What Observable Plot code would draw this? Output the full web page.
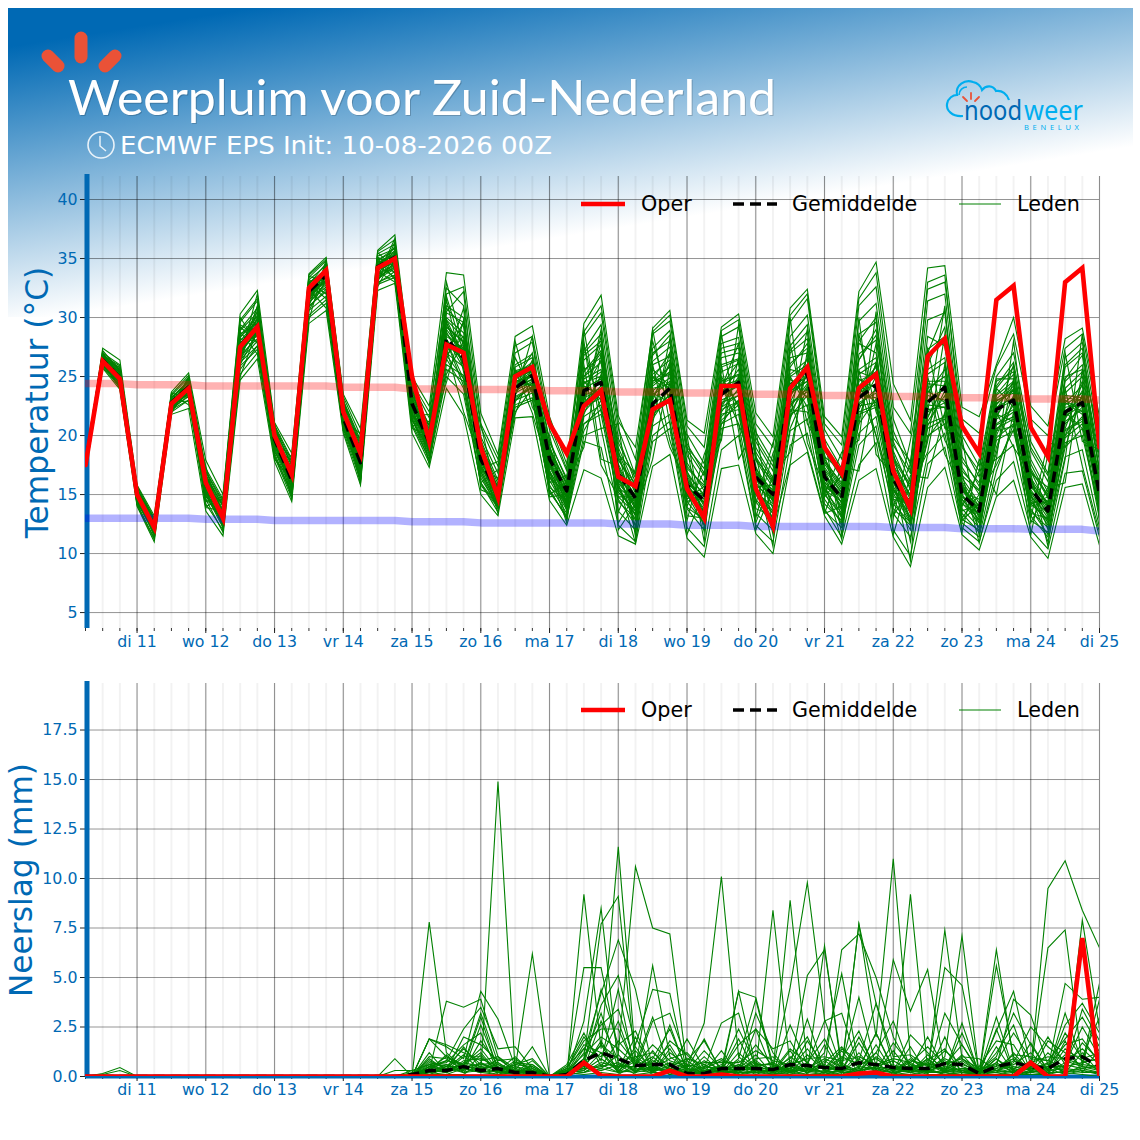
<!DOCTYPE html>
<html><head><meta charset="utf-8">
<script src="https://cdn.jsdelivr.net/npm/d3@7"></script>
<script src="https://cdn.jsdelivr.net/npm/@observablehq/plot@0.6"></script>
<style>
html,body{margin:0;padding:0;background:#fff}
#page{position:relative;width:1140px;height:1140px;overflow:hidden}
#band{position:absolute;left:8px;top:8px;width:1125px;height:309px;background:linear-gradient(171deg,#0069b4 8%,#fff 65%)}
#head,#legend{position:absolute;left:0;top:0;pointer-events:none}
</style></head><body>
<div id="page"><div id="band"></div></div>
<script>
const dayLabels=["di 11","wo 12","do 13","vr 14","za 15","zo 16","ma 17","di 18","wo 19","do 20","vr 21","za 22","zo 23","ma 24","di 25"];
const tempTicks=[5,10,15,20,25,30,35,40];
const rainTicks=[0,2.5,5,7.5,10,12.5,15,17.5];
const legendItems=["Oper","Gemiddelde","Leden"];
const operTemp=[17.5,26.3,24.8,15,12.2,22.7,24,16,13,27.5,29.2,20,16.7,32.5,34,22,18.5,34.2,35,25,19.5,27.7,27,19,14.8,25,25.8,21,18.5,22.5,23.8,16.5,15.7,22.2,23,15.5,13,24.2,24.2,15.5,12.3,24,25.8,19,16.8,24,25.2,17,13.8,26.7,28.2,20.8,18.5,31.5,32.7,20.7,18.2,33,34.2,19];
const meanTemp=[17.5,26.4,24.9,15,12.2,22.8,24.1,15.9,13,27.6,29.3,19.7,16.2,32.2,33.6,21.5,17.7,34.3,35.1,22.7,19.4,28.2,26.6,18,15,24,25.1,18,15.3,23.8,24.5,16.8,14.7,22.7,24,15.8,14.5,23.5,24.5,16.5,15,24.2,25.3,16.5,14.7,23.2,24.3,16.3,14,22.8,24.1,15,13.6,22.2,23,15.5,13.6,22,22.8,15];
const climMax=[24.4,24.4,24.4,24.3,24.3,24.3,24.3,24.2,24.2,24.2,24.2,24.2,24.2,24.2,24.2,24.1,24.1,24.1,24.1,23.95,23.95,23.95,23.95,23.9,23.9,23.9,23.9,23.8,23.8,23.8,23.8,23.7,23.7,23.7,23.7,23.6,23.6,23.6,23.6,23.5,23.5,23.5,23.5,23.4,23.4,23.4,23.4,23.3,23.3,23.3,23.3,23.2,23.2,23.2,23.2,23.1,23.1,23.1,23.1,23];
const climMin=[13,13,13,13,13,13,13,12.9,12.9,12.9,12.9,12.8,12.8,12.8,12.8,12.8,12.8,12.8,12.8,12.7,12.7,12.7,12.7,12.6,12.6,12.6,12.6,12.6,12.6,12.6,12.6,12.5,12.5,12.5,12.5,12.4,12.4,12.4,12.4,12.3,12.3,12.3,12.3,12.3,12.3,12.3,12.3,12.2,12.2,12.2,12.2,12.1,12.1,12.1,12.1,12.05,12.05,12.05,12.05,11.9];
const memberTemp=[
[17.5,27.4,26.4,15.8,13.2,23.7,25.3,17.9,15,30.3,32.3,21.1,18.5,33.7,35.1,23.5,20.6,35.7,37,25,22.5,33.8,33.6,21.9,18.4,28.4,29.3,21.6,17.6,29.5,31.9,21.7,18,29.1,30.6,21.3,20.2,29.2,30.3,21.9,19.9,30.8,32.4,21.6,19.9,32.2,34.7,24.4,21.3,34.2,34.4,22.4,21.6,26,30,22.5,20.8,28.2,29.1,21.6],
[17.5,25.7,23.9,14,11,21.8,22.3,13.6,11.5,24.7,26.5,17.8,14.4,29.5,30.6,20.2,15.8,32.3,32.9,20.2,17.3,24,21.7,15,13.2,21.5,21.6,14.5,12.4,17.1,16.4,11.5,10.8,17.4,18.4,11.3,9.7,17.2,17.5,11.7,10,17.5,18.6,13.2,10.8,16.2,17.2,11.4,8.9,15.6,17.3,11.6,10.3,14.8,16.2,11.4,9.6,15.6,15.9,10.7],
[17.5,27,26,15.5,12.9,23.4,24.9,17,14.4,29.6,31.4,20.8,17.8,33.4,34.8,23,19.6,35.4,36.2,24.3,21.5,32.5,31,20.7,17.4,27,27.9,20.5,17,28.4,30.4,20.6,16.6,28.6,29.7,20.1,17.6,28.4,29.2,20.3,17.8,29.6,31.6,20.5,18,31,32.6,21.4,17.5,33,33.6,20,17.4,25,27,19.5,16.8,26.6,27.9,19.8],
[17.5,26.9,25.7,15.4,12.7,23.1,24.6,16.6,14,29,30.8,20.5,17.6,33.2,34.4,22.8,19.2,35.2,35.8,23.8,20.9,31,30,19.9,16.8,26,26.9,19.6,16.2,27.2,29.4,19.8,16,27.4,28.9,19.3,16.8,27.8,28.3,19.5,17,28.4,30.2,19.7,17.2,29.7,31.2,20.4,17,31.4,32,19.2,16.5,24.2,26.2,18.7,16.1,25.8,27,19],
[17.5,26,24.2,14.4,11.6,22.2,23,14.2,12,25.6,27.6,18.3,15,30.2,31.5,20.6,16.5,33,33.6,21,18,26.5,24,16,14,22.4,23,15.4,13,19.5,19,12.4,11,19.5,20.6,12.2,10.6,18.8,20,12.4,11,19.2,20.2,13.8,11.4,17.5,19.4,12,9.8,17.6,19,12.2,11,16.2,17.8,12,10.4,16.8,17,11.4],
[17.5,26.7,25.3,15.2,12.5,22.9,24.3,16.4,13.5,28.5,30.2,20.3,17.2,32.9,34.1,22.4,18.9,34.9,35.6,23.5,20.4,30,28.7,19.3,15.9,25.2,26.2,18.8,15.8,26.4,27.7,19,15.6,26.3,27.5,18.3,16,26.6,27,18.6,16.2,27.2,28.8,18.7,16.4,28.6,29.6,19.5,16,29.8,30.4,18.2,15.7,23.5,25.2,18,15.2,24.6,26,18.2],
[17.5,26.5,25,15,12.3,22.8,24.2,16.1,13.2,28,29.8,20,16.8,32.6,33.9,22,18.4,34.6,35.3,23,19.9,29.2,27.9,18.8,15.4,24.8,25.6,18.2,15.5,25.6,26.6,18.2,15.1,25.2,26.4,17.7,15.3,25.4,26.1,17.9,15.6,26.1,27.4,18,15.8,26.9,28.1,18.7,15.4,27.3,28.4,17.3,15,23.1,24.4,17.2,14.7,23.6,25,17.2],
[17.5,26.3,24.8,14.9,12.1,22.6,24,15.8,13,27.6,29.2,19.7,16.4,32.2,33.6,21.7,18,34.3,35,22.6,19.4,28.6,27.2,18.2,15,24.4,25.2,17.8,15.1,24.8,25.6,17.6,14.6,24.4,25.4,16.9,14.8,24.6,25.2,17.2,15.2,25.2,26.4,17.3,15.2,25.6,26.6,17.9,14.8,25.6,26.6,16.4,14.3,22.7,23.8,16.4,14.2,22.8,24.2,16.4],
[17.5,26.2,24.7,14.8,12,22.5,23.9,15.6,12.7,27.2,28.7,19.4,16,31.9,33.2,21.4,17.6,34,34.8,22.2,19,27.8,26.4,17.6,14.6,24,24.8,17.3,14.7,24,24.8,16.9,14.2,23.4,24.6,16.4,14.3,23.8,24.4,16.6,14.7,24.4,25.5,16.7,14.6,24.6,25.4,16.9,14.2,24,25,15.7,13.7,22.2,23,15.8,13.6,22.1,23.2,15.8],
[17.5,26.1,24.5,14.7,11.9,22.4,23.7,15.3,12.4,26.8,28.2,19.1,15.7,31.5,32.8,21.1,17.2,33.7,34.5,21.9,18.6,27,25.8,17.2,14.2,23.6,24.4,16.8,14.2,23.2,23.9,16.2,13.8,22.6,23.8,15.8,13.8,23,23.7,16,14.2,23.6,24.6,16.1,14,23.6,24.4,16.2,13.6,23,24,15,13.2,21.4,22.2,15.2,13,21.2,22.2,15],
[17.5,25.9,24.3,14.5,11.7,22.2,23.4,15,12.2,26.2,27.6,18.8,15.2,31,32.2,20.8,16.8,33.3,34.1,21.5,18.2,26,25.1,16.7,13.8,23.2,24,16.2,13.7,22.4,23.2,15.5,13.2,21.8,23,15.2,13.2,22.2,22.9,15.4,13.6,22.8,23.7,15.4,13.4,22.8,23.6,15.5,13,22,22.8,14.3,12.6,20.6,21.4,14.6,12.4,20.4,21.2,14.4],
[17.5,25.8,24.1,14.2,11.3,22,23,14.6,11.8,25.2,27,18.2,14.7,30,31.2,20.4,16.2,32.8,33.4,20.8,17.7,25,23.5,16,13.5,22.6,23.2,15.4,13,21,21.8,14.6,12.4,20.8,21.8,14.4,12.6,21,21.8,14.6,12.8,21.8,22.6,14.6,12.6,21.8,22.4,14.6,12,20.6,21.4,13.4,11.8,19.6,20.4,13.8,11.6,19.4,20,13.6],
[17.5,26.8,25.6,15.5,13,22.4,24.8,14.8,13.8,29.4,28.4,21,15.2,33,32,22.8,17,35,34.6,24.6,18.6,30.5,32.2,17.2,17.8,24.6,27,16,16.6,22.5,29,13.5,17.2,28,22.8,20,11.8,24,27.8,13,18.5,21.5,29,15,18.6,19.6,30.5,13,19.6,27.4,20.6,19.8,11.5,21.4,26,13,19.4,19,23.5,13],
[17.5,26,25.2,14.6,12.8,23.3,23.4,16.8,12.3,27,30.9,18.9,17.9,31,34.6,21,19.8,33,36.4,21.6,21.8,26.4,30.8,16,17.1,26.6,23.6,19.2,13.6,27.6,22,18.8,12.2,21,28.2,14,17,19.6,29.4,18.4,11.6,27.8,21,18.4,13,28.6,22,18.6,12.4,22,31,14,17,18,28,16.4,12,27,19.5,18.8],
[17.5,26.6,24.4,15.1,11.4,23,23.6,14,14.6,26.4,31,19.2,15.6,32.8,31.6,22.2,16.2,34.4,33.4,20.6,20,25.2,28,19.6,13.8,23.4,28.4,15,16,19,27,12.6,15,29,21,12.8,18.4,22,24,15,13.4,20.6,24,19.8,11.6,25.5,20,15.4,14,19.5,28.6,13,15,17.5,20.5,14.2,14.8,24,17.4,11.8],
[17.5,27.1,24.6,15.6,11.8,21.9,24.4,15.6,14.2,25,29,21,14.8,30.6,33.2,23.2,16,35,33.2,21.2,21,28,24.8,21,14.4,22,24,18,12.8,29,20.6,21,11.4,24,19,16,13.6,28.6,20.4,12.6,16.6,18.6,26,14.8,16.6,24,20,14,17.6,24.4,18.4,15.6,12.6,22,19,16.8,10.6,21.6,22.6,13.8],
[17.5,26.4,25.8,14.3,12.4,22.6,24.9,13.9,13.6,28.8,26.9,20.2,14.6,32.4,30.8,21.8,15.9,33.9,33,24.2,17.5,27.4,22,17.8,15.6,21.8,26,14.8,15,20.4,23,16,10.9,22,27,11.6,15.4,21,23,14.2,19.4,23,18.8,13.4,14,21,27.8,11.6,16.6,16.4,22,11.8,18,15,22,11.6,18.4,20.5,21.4,15.4],
[17.5,26.9,24.9,14.9,12.6,23.6,23.2,15.2,12.8,27.8,29.4,19.5,18.2,33.5,33,22.6,17.8,35.5,34.2,22.4,19.8,24.5,29.8,15.4,14.8,28,22.4,20,14,26,17.5,14.8,13.4,18,25.6,19,11,26,18,20.5,12.2,17.6,27.2,13.4,17.4,17,24.6,17.8,11,21.5,24.4,12.8,14.2,18.5,24.8,12.6,15.6,16,25.6,20.4],
[17.5,27.2,25.5,14.1,11.2,22.1,25,14.4,14.8,30,27.8,18,16.2,29.8,34.9,20.4,18.8,33.4,36.7,20.8,21.2,29.8,26.8,18.4,13.4,25.6,21.9,17,12.6,23,28.4,12,14.2,25,24,13.2,13,20,26.6,12,15.4,25,22.4,16,11.2,23,26,13.2,15.6,18.6,26,15,12.2,19,23,15,11,18,28.6,12.6],
[17.5,26.3,25.1,15.3,11.6,23.5,22.6,17.4,12.1,26.6,32,19,17,31.6,34.2,21.2,20.2,32.6,35.4,24.8,19.2,33,27.5,17,16.4,24.2,24.4,19,14.6,28,18,17.4,11.8,26,19.6,15,12.4,24.2,21,17,10.6,30,19.4,15.6,15,30,18.4,16.6,9.4,25,19.6,16.8,10.9,17,21,13.4,13,22,20.6,17],
[17.5,26.2,24,14.2,12.2,22.9,22.9,16.3,12.9,28.2,28,20.6,15.4,32.5,32.4,22.5,17.4,34.8,33.8,22,18.9,31.5,25.4,18.6,15.2,25,25.4,17,14.4,25,26.2,16.4,13.8,23.2,26,15.4,15,24.8,22.6,16.2,15,23.2,26.6,16.4,13.8,22.2,25,16,13.4,23.4,23,14.6,12.8,22.6,24.2,15.4,13.4,23,22,14.8],
[17.5,26.6,24.6,14.7,12.6,22.7,24,15.4,13.4,27.4,30,19.2,16.6,32,33.4,21.6,18.2,34.1,35,22.8,19,28.8,26,18,14.9,24.6,25,17.6,14.8,22.6,25,15.6,14.4,22.2,23.4,16.6,14,22.6,25,16.8,14.4,22.6,24,17,14.2,24,22.8,15.2,14.6,21.6,24.4,15.6,13.2,21,22,16.2,13.8,21.4,23.8,15.6],
[17.5,26.4,25.4,15,12,23,24.1,16,13,28.4,29.6,19.9,16,33,33.8,21.9,17.6,34.5,35.4,23.2,19.6,27.6,27.6,18.5,14.4,25.4,25.8,18.4,15.4,24.2,23.4,17.2,14.9,23.6,22.8,16,14.6,23.4,24.2,15.6,15.8,24,25,16.6,15,23.4,23.2,14.8,14.4,22.6,22.4,15.4,14,23,23.6,14.8,13.4,22.4,22.6,14.2],
[17.5,26.5,25,15.4,12.4,22.6,23.8,15.9,13.3,26.9,29,20.1,16.5,31.8,33.2,22.2,18.2,34,35.2,21.8,19.2,29.5,26.6,17.4,14.6,23.8,24.6,18.6,14.8,23.8,26.4,18,15.4,25,23.2,15.6,13.4,22.8,23.4,17.4,13.8,24.8,23.2,15.8,14.4,22.6,23.9,16.8,13.6,20.8,23.8,15.8,13.6,20.4,22.6,14.4,12.8,20.6,24.4,14.6],
[17.5,26.3,24.5,14.6,11.8,22.5,23.5,15.1,12.6,27.9,28.4,18.6,16.4,31.2,33,20.9,17,33.6,34.4,22.4,20.2,26.8,28.4,16.4,14,23,24.2,15.8,13.4,21.6,22.6,14.4,13,24.6,25.8,14.6,15.7,21.8,22.2,13.8,13.2,22.2,22,15.2,12.4,20.2,21.6,14.2,12.6,19.8,21.8,13.8,12.2,19.8,21,13.2,11.4,19.8,21,13.4],
[17.5,26.7,25.2,15.1,12.7,23.2,24.6,16.7,14,26.2,30.6,20.7,17.4,32.3,34.3,22.9,19.4,34.2,36,23.4,20.6,30.8,29.2,19,15.6,24.9,25.5,19,15.9,25.4,27.2,19.4,16.4,27,28,18.8,16.6,27,27.4,19,16.4,27,28.2,18.2,17,26.4,29,19.2,16.8,26,29.2,17.8,16,24.8,24.8,16.8,15.6,25,25.6,17.8],
[17.5,26,24.2,14.4,12.1,22.3,23.6,14.9,12.5,25.9,27.3,18.5,15,30.6,31.8,20.7,16.7,32.9,33.9,21.4,17.9,25.6,24.6,15.8,13.9,23,23.6,15.2,13.2,20,20.6,13.6,12,20,21.2,13.8,12,20.6,21,13.4,12,20.4,21.4,13.6,12.2,19.2,20.8,13.4,11.4,18.4,20.2,12.6,11.4,18,19.2,12.8,11.8,18.2,18.8,12.2],
[17.5,26.8,25.9,15.7,13,23.5,25.1,17.2,14.6,29.8,31.6,20.9,18,33.6,34.9,23.3,20,35.6,36.6,24.5,22,32,32.6,21,18,27.6,28.4,21,17.2,28.8,31,21.2,19,28.8,30.2,20.8,19,28.9,29.8,21,19,30.2,32,21,19.2,31.6,33.8,22.4,20.2,32.4,33,21.4,20.2,25.8,28.6,21.4,20,27.4,28.6,20.8],
[17.5,26.4,25,15,12.5,22.8,24.2,16.2,13.2,28.6,29.5,20.4,16.9,32.7,34,22.1,18.6,34.7,35.2,23.7,20.1,29.2,28,18.9,15.2,25.3,26,18.4,15.6,27,28.6,18.6,15.2,24.8,27,17.2,15.8,26,26.5,18.2,15.9,25.8,27.8,17.6,15.4,27.8,27,18.2,15.8,28.4,27.6,17,15.4,24,25.8,17.6,14.8,24.8,26.8,16.8],
[17.5,26.1,24.9,14.8,12,22.4,24,15.7,12.9,27.3,29.1,19.3,16.3,31.4,33.5,21.3,17.9,33.2,34.7,22.3,18.8,28.2,25.7,17.6,14.3,24.2,24.7,16.6,14,23.4,24,16,14.1,21.4,23.6,14.9,13.6,21.6,23,15.2,14,22,24.2,15.6,13,22,22.6,15.7,13.1,21,21.6,14.2,13.4,21.8,21.2,15,12.6,21,22.4,15.2],
[17.5,26.5,25.1,14.8,12.3,22.9,24.5,15.5,13.1,28.1,29,19.8,16.1,32.1,33.7,21.7,17.9,34.4,34.9,22.5,19.3,29,27,18.3,15.1,24.3,25,17,14.5,22.8,24.2,16.2,15,24,24.4,15,14.4,24.2,26.2,16.8,15.4,25.6,25.2,17.8,15.6,24.8,24,17,15,23.6,25.6,14.8,13.8,24,22.4,16,13.2,23.4,23.2,15.8],
[17.5,26.2,24.7,15.2,11.9,22.7,23.7,16.5,12.8,26.5,28.6,19.6,17.1,31.7,33.1,21.5,17.3,33.8,34.9,23.1,18.4,29.6,25.9,19.4,15.4,23.4,26.4,16.4,15.2,23,27.8,15.2,13.6,25.6,24.2,17,13.2,22.4,24.8,15.8,14.6,22.8,25.8,15.4,14.4,25.4,24.8,15.4,12.8,24.6,24.6,16,13,20,23.4,17,13.9,22.8,21.8,14],
[17.5,26.6,24.8,14.5,12.3,23,24.3,15.2,13.6,27.1,29.9,20.2,15.8,32.3,33,22.3,17.1,35.1,34.5,21.7,20.3,27,29.6,17.2,15.8,24.7,24.2,17.9,14.2,21.8,25.2,14.8,14.8,23,26.2,14.4,15,25,22.4,15.4,13.4,21.4,25.4,16,14.8,21.4,26.2,14.6,14.2,21.2,23.4,13.6,14.2,21.6,24,14,14.4,20,23.4,15],
[17.5,26.8,25.5,14.9,12.6,22.4,24.4,16.6,13.7,29.2,27.9,20,16.6,33.1,33.3,21.2,18.5,34,35.7,22.7,19.5,31.8,27,18.7,14.8,25,24.9,17.4,15.3,24.5,25,16.6,13.2,24.2,25.4,16.2,14.2,23.6,25.6,16.9,14.9,23.8,24.6,16.9,13.6,23.6,25.4,17.4,13.4,23.8,22.8,15.2,14.6,22.2,24.6,15.2,14,21.6,24.6,16],
[17.5,26,24.4,15,12,22.6,24.1,14.6,13.2,26,28.9,19.5,15.5,31.3,32.6,21.8,16.4,33.5,34.2,21.3,18.8,28,24.2,17,14.1,22.9,24.5,15.6,14.5,21,22.2,15.8,12.8,21.6,24.4,13.9,12.9,21.3,22.6,14.4,12.4,21.6,23.4,14.2,12.8,21,23.1,13.8,12.4,20,21,12.9,12,20.4,20.8,13.6,12.2,19,20.6,12.9],
[17.5,26.9,25.3,15.3,12.9,23.2,24.7,16.9,14.2,28.9,30.4,20.6,17.5,32.8,34.6,22.7,19,34.8,35.9,23.9,20.8,30.4,29.6,19.6,16.2,25.8,26.6,19.4,16.4,26.8,28,18.4,16.8,26.8,28.5,19,17.2,27.4,27.8,19.8,17.4,27.6,29.4,19.2,16.8,28,30,19.8,17.8,27,30.6,19,17,24.6,25.4,19,16.6,26,27.4,18.6],
[17.5,26.3,24.6,14.6,12.2,22.7,23.8,15.5,12.9,27,28.9,19.6,16,31.6,33.4,21.5,17.5,34.1,34.6,22.9,19.1,28.1,26.2,17.9,14.7,24.1,25.3,17.5,14.9,24.6,23,17,13.9,23.8,24.9,16.7,15,24.2,24.7,16.4,14.5,23.4,25,16.4,14.9,24.2,25.8,17.2,14.6,24.4,24.2,15.6,13.5,22.4,23.2,15.6,14.4,23.2,23,15.4],
[17.5,26.7,25.4,15.2,12.4,22.9,24.3,16.3,13.6,28.3,30.1,20.3,16.7,32.5,33.7,22.3,18.3,34.6,35.5,23.3,20,29.8,28.3,19.1,15.5,25.5,25.9,18.7,16,25,27,17.9,15.9,26,26.7,17.4,15.6,25.8,26.4,18,16.1,26.6,27,17.8,16,26.4,28.5,18,15.6,26.6,28,16.6,15.3,23.4,24.6,17,15,24,25.4,17],
[17.5,26.1,24.6,14.7,12,22.3,23.3,15.3,12.4,26.4,28,18.9,15.6,30.9,32.4,21,17,33.4,34.3,21.7,18.4,26.8,24.8,16.9,14,23.3,24.1,16.5,13.9,22,23.6,15.4,13.6,22.4,22.8,15,13.5,22.4,23.4,15,13,22.4,24.4,15,13.2,22.5,22.8,15.1,12.6,22.2,22.4,14.6,12.9,20.9,21.6,14.2,12.9,20,21.6,14.6],
[17.5,26.5,24.9,15.1,12.5,23,24.1,16.1,13.1,27.7,29.4,19.6,16.5,32.4,33.8,21.8,18.1,34.3,35.1,22.6,19.7,28.4,27.4,18.1,15.3,24.5,25.4,18,15.2,24.4,25.4,17.4,14.4,24.6,25.2,16.2,14.6,24.4,25.1,17,15,25,26,17.1,15.1,25.2,26.2,17.5,14.9,25.2,26.2,16.1,14,22.9,23.9,16.1,14.1,22.6,23.6,16.1]
];
const dry=[0,0,0,0,0,0,0,0,0,0,0,0,0,0,0,0,0,0,0];
const operRain=[...dry,0,0,0,0,0,0,0,0,0,0,.7,.05,0,0,0,.3,0,0,.1,0,0,0,0,0,0,0,.15,.2,0,0,0,0,0,0,0,0,.7,0,0,7,0];
const meanRain=[...dry,.1,.3,.3,.5,.3,.4,.2,.2,0,.1,.8,1.2,.9,.55,.6,.6,.15,.15,.4,.4,.4,.35,.6,.55,.45,.4,.7,.6,.45,.4,.4,.65,.6,.15,.5,.7,.5,.4,.9,1,.5];
const memberRain=[
[...dry,0,7.8,1.2,.4,.2,14.9,.3,.1,0,0,9.2,1.4,11.6,1,.4,.3,.5,2.7,10.1,1,.3,8.4,.5,.3,6.6,.3,7.7,2,11,1,.2,7.4,.9,.2,6.4,.8,.4,9.5,10.9,8.4,6.5],
[...dry,0,1.9,1.6,1.2,.8,1,.4,6.2,0,.2,5.5,5.5,1.2,10.6,7.5,7.2,.4,.3,.2,4.3,.5,.3,8.9,.6,.4,6.4,7.2,5,2,.4,.3,1,7.1,.1,5.6,1,.3,6.5,7.4,.6,4.7],
[...dry,0,1.9,1.5,.9,4.3,2.9,.5,.3,0,.1,2.8,8.5,.6,.4,5.6,1,.4,1.9,.2,.9,3.9,.4,4.5,9.8,2.9,.4,7.7,3.7,.6,9.2,.4,5.5,4.6,.2,2.3,4.3,.5,.4,4.7,3.9,4],
[...dry,.1,.3,3.8,3.5,3.9,1,.2,.2,0,.2,.9,7.7,9.1,.5,1,.3,1.9,.4,2.7,3.2,.4,.2,.4,5.1,6.4,.6,4,.5,5.9,3.3,5.4,.3,.4,.4,.5,3.9,3.1,.6,.3,7.9,2.4],
[...dry,0,.3,.8,2.4,3.5,1.4,1.5,.4,0,.1,1.2,4.2,6.9,4.4,.4,.9,1.2,.3,.4,4.3,4,.6,.3,.3,1.2,5.2,.5,1.2,2.8,.4,2,.4,1,.9,.3,.7,2.5,1.5,.8,.5,.4],
[...dry,.3,.6,.3,2,1.6,.8,.9,.3,0,.3,.6,3.6,5.1,1.6,4.4,4.2,.2,.8,.3,.6,.3,.5,.2,.6,.4,1.4,.8,3.7,1,1.1,.5,1.3,.6,.3,1,3.2,1.6,.3,1.1,1,3],
[...dry,0,.7,.5,1.4,.6,.4,.3,1.5,0,.4,1.8,2.4,2.4,.4,2.8,3.2,.8,.2,.5,.3,.9,1,.3,1.8,.5,.3,2,.4,.5,.2,1.1,.3,1.1,.2,.4,1.1,1,.8,1.9,3,1.5],
[...dry,0,.4,1,.6,1.2,.2,.7,.6,0,.2,.4,2.8,.8,1,1.2,.5,.9,.6,.2,1.2,.4,.2,1,.4,.2,.6,.3,1,.4,.5,.6,.2,.7,.1,.9,.3,.5,2,.6,2.5,1],
[...dry,0,.2,.3,1,1,.3,.2,.8,0,.5,1.4,1,2.8,.3,.7,1.6,.2,.5,.9,.4,1.1,.1,.8,.2,.8,.2,1.2,.2,.3,.9,.2,.8,.2,.3,.2,1.2,.2,1.2,.4,1.7,.8],
[...dry,0,1.2,.2,.5,.4,.6,.1,.4,0,.3,.7,1.6,.3,.2,.4,.2,.4,.2,.6,.2,.6,.6,.2,1.1,.3,.1,.5,.4,.2,.3,.9,.2,.4,.1,1.5,.2,.8,.2,1.4,.8,.3],
[...dry,0,.5,.6,.3,2.6,.4,.3,.2,0,.6,2.2,.5,1.8,.7,.2,.6,.1,.3,.2,.8,.2,.3,.5,.2,.5,.2,.2,.7,.1,.6,.3,.5,.3,.2,.3,.5,.3,.7,.2,1.2,.2],
[...dry,0,.3,.2,.7,.5,.2,.5,.1,0,.2,.3,1.2,.4,2,.3,.4,.3,.1,.1,.3,.8,.2,.1,.5,.2,.7,.1,.3,.5,.2,.4,.1,.2,.1,.7,.2,.6,.1,.6,.4,.6],
[0,.15,.45,0,0,0,0,0,0,0,0,0,0,0,0,0,0,0,0,0,.1,.4,.2,.3,.1,.2,.2,0,.1,.2,.6,.2,.3,.5,.1,.6,.1,.4,.1,.3,.1,.2,.1,.1,.4,.3,.1,.2,.1,.2,.2,.1,.1,.1,.1,.2,.4,.1,.3,.1],
[0,.1,.3,0,0,0,0,0,0,0,0,0,0,0,0,0,0,0,0,0,.2,.1,.1,.7,.3,.1,.1,0,.1,.5,.3,.6,.1,.2,.2,.1,.2,.1,.5,.1,.4,.1,.3,.1,.1,.2,.2,.1,.4,.1,.1,.3,.1,.2,.1,.1,.1,.3,.2,.2],
[...dry,0,.1,.1,.4,.2,.1,.4,.1,0,.2,.1,.2,.1,.6,.1,.3,.2,.1,.3,.1,.2,.1,.3,.1,.2,.1,.1,.1,.1,.1,.3,.1,.1,.1,.1,.3,.1,.2,.2,.1,0],
[...dry,0,.6,.7,1.6,2.2,.2,.6,.9,0,.3,1.1,2,1.4,.6,1.6,.8,.5,.7,.7,.7,1.3,.8,.6,.9,1,.8,1,.6,.9,.7,1.5,.6,1.6,.3,.7,2.2,.9,.8,.4,3.4,1.8],
[...dry,0,1,.9,.3,1.8,.6,.2,.5,0,.1,.9,3.2,.4,1.3,.3,1.8,1.1,.2,.3,1.6,2.4,1.4,1.8,.3,.7,1.5,.4,2.2,.4,.2,.8,1.4,.2,.5,1.8,1.6,.2,.5,1.6,1.9,.7],
[...dry,0,.8,.4,1.1,.3,.9,.3,.3,0,.4,.5,1.6,.9,.2,.9,2.4,.3,1.3,.4,.3,.7,.3,1.4,.7,1.9,.3,1.7,.3,1.7,.6,.3,.9,.5,.2,.4,.6,1.2,.3,2.2,.9,1.2],
[...dry,0,.4,.2,.8,.9,.5,.1,.6,0,.2,.3,.9,.3,.9,.2,1.2,.6,.4,.8,.5,1.6,.5,.4,1.4,.3,1,.6,.9,.3,.8,.6,.6,.9,.4,.6,.4,.7,1,.9,.6,.5],
[...dry,.2,.2,.5,.5,.6,.7,.2,.1,0,.3,.2,.7,.5,.5,.6,.1,.2,.6,.1,.4,.5,.7,.2,.4,.9,.5,.2,.5,.8,.3,.7,.3,.8,.2,.5,.9,.4,.5,.5,.7,.9],
[...dry,0,.5,.3,.6,1.4,.3,.2,.4,0,.1,.6,.4,1.1,.2,.8,.4,.1,.3,.5,.2,.3,.2,.7,.2,.6,.2,.9,.2,.6,.2,.5,.4,.3,.2,.2,.8,.3,.2,.7,1.4,.6],
[...dry,0,.2,.6,.2,.5,.4,.3,.2,0,.3,.4,1.8,.2,.8,.3,.7,.4,.1,.2,.6,.2,.4,.3,.7,.1,.3,.4,.3,.2,.5,.2,.7,.2,.1,.3,.2,.5,.6,.2,.5,.3],
[0,0,0,0,0,0,0,0,0,0,0,0,0,0,0,0,0,0,.9,0,.5,.3,.6,.2,.3,.6,.5,0,.2,.4,.5,.7,.3,.2,.2,.1,.4,.2,.3,.4,.1,.4,.2,.3,.2,.3,.5,.3,.2,.3,.2,.4,.2,.3,.2,.4,.2,.2,.4,.2],
[0,0,0,0,0,0,0,0,0,0,0,0,0,0,0,0,0,0,.3,.3,.2,.4,.3,.7,.2,.2,.3,0,.3,.2,.4,.2,.4,.3,.5,.2,.2,.3,.2,.2,.3,.2,.4,.2,.3,.2,.2,.4,.3,.2,.3,.2,.2,.2,.4,.2,.3,.4,.3,.2],
[...dry,0,1.9,1,.5,3,.3,1,.2,0,.1,1.4,2.6,3.4,.6,3,.3,.2,.5,.4,2.4,.6,.2,2.6,.6,2.8,3.2,.4,2.2,.3,.7,.2,3.2,1.6,.2,1.2,2.6,.2,.4,2.6,3.7,2.2],
[...dry,0,.5,.8,.6,3.2,.7,.1,.3,0,.2,.7,4.4,1.6,2.3,.4,2.6,.2,1,.2,.2,3.2,1.2,.2,2.9,.3,1.3,.2,1.6,.2,2.1,1.2,.2,2.7,.1,2.4,.2,.2,1.8,1.2,.5,3.9],
[...dry,0,.9,.3,1.5,.4,.2,.8,.2,0,.4,2,.8,4.4,.2,1.3,.2,.8,1.8,.3,1.9,.2,.4,.9,2,.2,.9,2.3,.2,1.3,.2,.9,.2,2.2,.2,3,.3,1.7,.3,3.2,.7,.9],
[...dry,0,.3,1.1,.2,1.1,.1,.2,.3,0,.2,1.6,1.2,.2,1.5,.2,1.4,.1,.2,1.3,.1,2.4,.2,1.3,.1,1.6,.1,.2,1.2,.2,1.5,.1,2,.1,.2,.9,.1,.3,.1,1.8,.2,1.4]
];
[...memberTemp,operTemp,meanTemp,climMax,climMin,...memberRain,operRain,meanRain].forEach((r,k)=>{if(r.length!==60)throw new Error("row "+k+" has "+r.length)});

const BLUE="#0069b4";
const FONT="DejaVu Sans";
const times=d3.range(60).map(i=>new Date(Date.UTC(2026,7,10,6+6*i)));
const dayTicks=dayLabels.map((_,k)=>new Date(Date.UTC(2026,7,11+k)));
const sixHourly=times;
const dayName=new Map(dayTicks.map((d,k)=>[+d,dayLabels[k]]));
const tidy=rows=>rows.flatMap((r,m)=>r.map((v,i)=>({t:times[i],v,m})));
const series=r=>r.map((v,i)=>({t:times[i],v}));

function panel({top,height,marginTop,marginBottom,domain,spineTop,yTicks,yFormat,yLabel,labelOffset,members,oper,mean,clim,floor}){
  const minor={stroke:"#000",strokeOpacity:.05,strokeWidth:2};
  const major={stroke:"#000",strokeOpacity:.42,strokeWidth:1};
  return Plot.plot({
    width:1140,height,marginLeft:85,marginRight:41,marginTop,marginBottom,
    style:{position:"absolute",left:"0",top:top+"px",background:"transparent",fontFamily:FONT,fontSize:"15.8px",overflow:"visible",maxWidth:"none"},
    x:{type:"utc",domain:[times[0],times[59]]},
    y:{domain},
    marks:[
      Plot.ruleX(sixHourly,minor),
      Plot.ruleY(yTicks,major),
      Plot.ruleX(dayTicks,major),
      Plot.axisX({ticks:sixHourly,tickSize:3,tickFormat:()=>"",stroke:"#333",label:null}),
      Plot.axisX({ticks:dayTicks,tickSize:5,tickPadding:2,tickFormat:d=>dayName.get(+d),fill:BLUE,stroke:"#222",label:null}),
      Plot.axisY({ticks:yTicks,tickSize:5,tickPadding:3,tickFormat:yFormat,fill:BLUE,stroke:"#222",label:null}),
      Plot.axisY({ticks:[],label:yLabel,labelAnchor:"center",labelArrow:"none",labelOffset,fontSize:31.3,fill:BLUE}),
      Plot.ruleX([times[0]],{stroke:BLUE,strokeWidth:5,dx:1.5,y1:domain[0],y2:spineTop}),
      floor?Plot.ruleY([0],{stroke:BLUE,strokeWidth:4}):null,
      Plot.line(tidy(members),{x:"t",y:"v",z:"m",stroke:"#008000",strokeWidth:1.1,strokeMiterlimit:8,strokeLinejoin:"miter",clip:true}),
      ...(clim||[]).map(c=>Plot.line(series(c.values),{x:"t",y:"v",stroke:c.color,strokeOpacity:.3,strokeWidth:7.5,clip:true})),
      Plot.line(series(mean),{x:"t",y:"v",stroke:"#000",strokeWidth:3.5,strokeDasharray:"11,6",strokeLinecap:"butt",clip:true}),
      Plot.line(series(oper),{x:"t",y:"v",stroke:"#ff0000",strokeWidth:4.6,strokeMiterlimit:6,strokeLinejoin:"miter",clip:true})
    ]
  });
}
const page=document.getElementById("page");
page.appendChild(panel({top:160,height:500,marginTop:16,marginBottom:32,domain:[3.65,41.95],spineTop:42.12,yTicks:tempTicks,yFormat:d=>String(d),yLabel:"Temperatuur (°C)",labelOffset:60,members:memberTemp,oper:operTemp,mean:meanTemp,clim:[{values:climMax,color:"#ff0000"},{values:climMin,color:"#0000ff"}]}));
page.appendChild(panel({top:666,height:440,marginTop:17,marginBottom:30,domain:[0,19.85],spineTop:19.95,yTicks:rainTicks,yFormat:d=>d.toFixed(1),yLabel:"Neerslag (mm)",labelOffset:76,members:memberRain,oper:operRain,mean:meanRain,floor:true}));

const NS="http://www.w3.org/2000/svg";
const overlay=d3.select(page).append("svg").attr("id","legend").attr("width",1140).attr("height",1140).attr("xmlns",NS);
const swatches=[{x1:581,x2:625,tx:641,stroke:"#ff0000",w:4.6,dash:null},{x1:733,x2:777,tx:792,stroke:"#000",w:3.5,dash:"11,6"},{x1:959,x2:1001,tx:1017,stroke:"#008000",w:1,dash:null}];
[204,710].forEach(y=>swatches.forEach((s,k)=>{
  overlay.append("line").attr("x1",s.x1).attr("x2",s.x2).attr("y1",y).attr("y2",y).attr("stroke",s.stroke).attr("stroke-width",s.w).attr("stroke-dasharray",s.dash);
  overlay.append("text").attr("x",s.tx).attr("y",y+7).attr("font-family",FONT).attr("font-size",20.7).attr("fill","#000").text(legendItems[k]);
}));
// header: flame mark, title, subtitle, clock and logo
const bars=[[81,38,81,57],[48,56,58,66],[115,56,105,66]];
bars.forEach(b=>overlay.append("line").attr("x1",b[0]).attr("y1",b[1]).attr("x2",b[2]).attr("y2",b[3]).attr("stroke","#ea5237").attr("stroke-width",13).attr("stroke-linecap","round"));
overlay.append("text").attr("x",68).attr("y",115).attr("font-family","Lato").attr("font-size",48).attr("fill","#fff").attr("textLength",708).attr("lengthAdjust","spacingAndGlyphs").style("filter","drop-shadow(1px 1px 0.5px rgba(0,0,0,.18))").text("Weerpluim voor Zuid-Nederland");
overlay.append("circle").attr("cx",101).attr("cy",145).attr("r",13).attr("fill","none").attr("stroke","#fff").attr("stroke-opacity",.85).attr("stroke-width",1.6);
overlay.append("path").attr("d","M100 136 L100 146 L106 151").attr("fill","none").attr("stroke","#fff").attr("stroke-opacity",.85).attr("stroke-width",1.5);
overlay.append("text").attr("x",120).attr("y",154).attr("font-family",FONT).attr("font-size",25.6).attr("fill","#fff").attr("textLength",432).attr("lengthAdjust","spacingAndGlyphs").text("ECMWF EPS Init: 10-08-2026 00Z");
const CY="#00aeef";
overlay.append("path").attr("d","M963 116 C952 117 946 110 947 104 C948 98 953 95 957 95 C955 85 965 79 973 82 C978 83 981 87 982 90 C986 85 993 85 996 91 C1002 90 1007 94 1009 100").attr("fill","none").attr("stroke",CY).attr("stroke-width",2.2);
overlay.append("path").attr("d","M959 95 C959 90 963 87 967 87").attr("fill","none").attr("stroke",CY).attr("stroke-width",1.6);
[[971,93,971,99],[963,97,967,101],[979,97,975,101]].forEach(b=>overlay.append("line").attr("x1",b[0]).attr("y1",b[1]).attr("x2",b[2]).attr("y2",b[3]).attr("stroke","#ea5237").attr("stroke-width",1.8).attr("stroke-linecap","round"));
overlay.append("text").attr("x",964).attr("y",120).attr("font-family","Noto Sans").attr("font-size",28).attr("fill",BLUE).attr("textLength",58).attr("lengthAdjust","spacingAndGlyphs").text("nood");
overlay.append("text").attr("x",1024).attr("y",120).attr("font-family","Noto Sans").attr("font-size",28).attr("fill",CY).attr("textLength",59).attr("lengthAdjust","spacingAndGlyphs").text("weer");
overlay.append("text").attr("x",1024).attr("y",130).attr("font-family","Noto Sans").attr("font-size",7.5).attr("fill",CY).attr("textLength",55).text("BENELUX");
</script>
</body></html>
